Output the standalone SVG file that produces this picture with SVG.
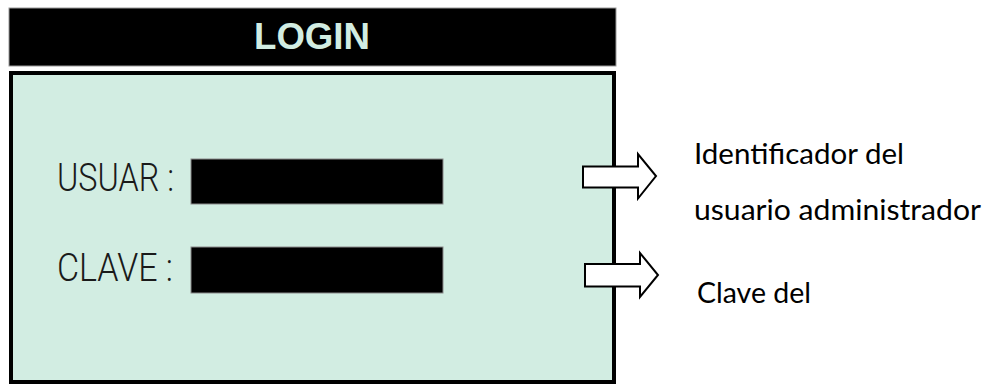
<svg xmlns="http://www.w3.org/2000/svg" width="990" height="386" viewBox="0 0 990 386">
  <style>
    .hdr { fill: #000; stroke: #9a9a9a; stroke-width: 1; }
    .title { font-family: "Liberation Sans", Arial, sans-serif; font-weight: bold; font-size: 36px; fill: #d2ede2; }
    .panel { fill: #d2ede2; stroke: #000; stroke-width: 4; }
    .field { fill: #000; stroke: #8a8a8a; stroke-width: 1; }
    .lbl { font-family: Roboto, "Liberation Sans", sans-serif; font-weight: 300; font-size: 38px; fill: #1a1a1a; }
    .note { font-family: Lato, "Liberation Sans", sans-serif; font-size: 28px; fill: #000; }
    .arrow { fill: #fff; stroke: #000; stroke-width: 2; stroke-linejoin: miter; }
  </style>
  <rect width="990" height="386" fill="#fff"/>
  <g id="header">
    <rect class="hdr" x="9" y="8" width="607" height="58"/>
    <text class="title" x="312" y="49" text-anchor="middle" textLength="116" lengthAdjust="spacingAndGlyphs">LOGIN</text>
  </g>
  <g id="login-panel">
    <rect class="panel" x="11" y="73" width="603" height="309"/>
  </g>
  <g id="usuario-field">
    <text class="lbl" x="57" y="191" textLength="117" lengthAdjust="spacingAndGlyphs">USUAR :</text>
    <rect class="field" x="191" y="159" width="252" height="45"/>
  </g>
  <g id="clave-field">
    <text class="lbl" x="57" y="281" textLength="116" lengthAdjust="spacingAndGlyphs">CLAVE :</text>
    <rect class="field" x="191" y="247" width="252" height="46"/>
  </g>
  <g id="connectors">
    <polygon class="arrow" points="583,166.5 638,166.5 638,154 656,176 638,198.5 638,187.5 583,187.5"/>
    <polygon class="arrow" points="585,264 640,264 640,253 658,275 640,297 640,286.5 585,286.5"/>
  </g>
  <g id="usuario-note">
    <text class="note" x="694" y="164" textLength="210" lengthAdjust="spacingAndGlyphs">Identificador del</text>
    <text class="note" x="694" y="220" textLength="287" lengthAdjust="spacingAndGlyphs">usuario administrador</text>
  </g>
  <g id="clave-note">
    <text class="note" x="697" y="303" textLength="114" lengthAdjust="spacingAndGlyphs">Clave del</text>
  </g>
</svg>
